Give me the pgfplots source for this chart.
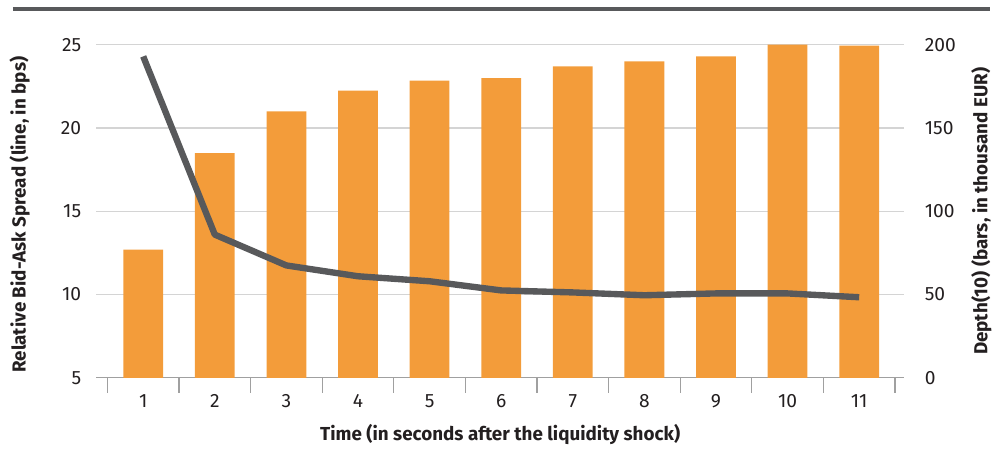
\documentclass[border=0pt]{standalone}
\usepackage{pgfplots}
\pgfplotsset{compat=1.18}
\usepackage{fontspec}
\setmainfont{Fira Sans}
\definecolor{barorange}{HTML}{F39C3A}
\definecolor{linegray}{HTML}{58595B}
\definecolor{gridgray}{HTML}{D4D4D4}
\definecolor{axisgray}{HTML}{A0A0A0}
\definecolor{textdark}{HTML}{231F20}

% 1 px of the reference = 0.75pt
\pgfplotsset{
  common/.style={
    scale only axis,
    width=609pt, height=251.25pt,
    xmin=0.347, xmax=11.625,
    /pgf/number format/assume math mode=true,
    tick label style={font=\fontsize{14.5}{16}\selectfont, text=textdark},
    label style={font=\bfseries\fontsize{14.2}{16}\selectfont, text=textdark},
    ytick style={draw=none},
    y axis line style={draw=none},
  },
}

\begin{document}
\begin{tikzpicture}
% bars (right axis), with grid and x axis
\begin{axis}[common,
    axis y line*=right,
    axis x line*=bottom,
    x axis line style={draw=axisgray, line width=0.9pt, -},
    ymin=0, ymax=200,
    ytick={0,50,100,150,200},
    ymajorgrids,
    grid style={draw=gridgray, line width=0.8pt},
    xtick={1,...,11},
    major x tick style={draw=none},
    minor xtick={0.5,1.5,...,11.5},
    minor x tick style={draw=axisgray, line width=0.9pt},
    minor tick length=11.25pt,
    tick align=outside,
    xticklabel style={yshift=-5pt},
    yticklabel style={xshift=8pt},
    ylabel={Depth(10) (bars, in thousand EUR)},
    ylabel style={at={(axis description cs:1.096,0.5)}, anchor=center},
    xlabel={Time (in seconds after the liquidity shock)},
    xlabel style={at={(axis description cs:0.5,-0.17)}, anchor=center},
  ]
\addplot[ybar, bar width=30pt, fill=barorange, draw=none] coordinates {
(1,77) (2,135) (3,160) (4,172.5) (5,178.5) (6,180)
(7,187) (8,190) (9,193) (10,200) (11,199.5)};
\end{axis}
% spread line (left axis)
\begin{axis}[common,
    axis y line*=left,
    axis x line=none,
    ymin=5, ymax=25,
    ytick={5,10,15,20,25},
    yticklabel style={xshift=-8pt},
    ylabel={Relative Bid-Ask Spread (line, in bps)},
    ylabel style={at={(axis description cs:-0.095,0.49)}, anchor=center},
  ]
\addplot[linegray, line width=4.8pt, line join=round, mark=none] coordinates {
(1,24.3) (2,13.6) (3,11.75) (4,11.1) (5,10.8) (6,10.25)
(7,10.13) (8,9.96) (9,10.07) (10,10.07) (11,9.84)};
\end{axis}
\draw[linegray, line width=2.4pt] (-63pt,278.25pt) -- (674.25pt,278.25pt);
\path[use as bounding box] (-72.75pt,-68.25pt) rectangle (674.25pt,285pt);
\end{tikzpicture}
\end{document}
